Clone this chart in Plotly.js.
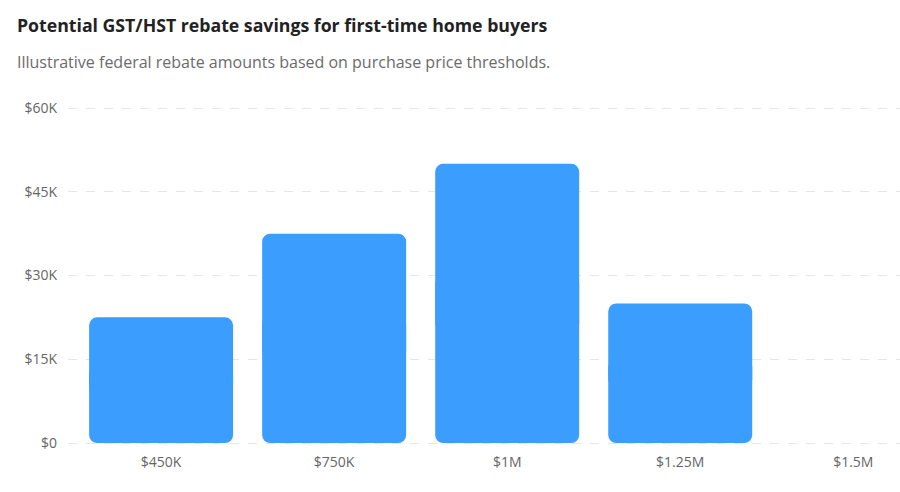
<!DOCTYPE html>
<html>
<head>
<meta charset="utf-8">
<script src="https://cdn.plot.ly/plotly-3.0.1.min.js"></script>
<style>html,body{margin:0;padding:0;background:#fff;}#chart{width:900px;height:492px;}</style>
</head>
<body>
<div id="chart"></div>
<script>
const categories = ["$450K", "$750K", "$1M", "$1.25M", "$1.5M"];
const rebates = [22500, 37500, 50000, 25000, 0];
const yTickVals = [0, 15000, 30000, 45000, 60000];
const yTickText = ["$0", "$15K", "$30K", "$45K", "$60K"];

const FONT = "'Open Sans', 'Noto Sans', sans-serif";
const BAR = "#3b9dfd";

// Each bar is drawn as two overlapping halves so both top and bottom corners are rounded.
const upper = {
  type: "bar",
  x: categories,
  base: rebates.map(v => v * 0.4),
  y: rebates.map(v => v * 0.6),
  marker: { color: BAR, line: { width: 0 } },
  hoverinfo: "none"
};
const lower = {
  type: "bar",
  x: categories,
  base: rebates.map(v => v * 0.6),
  y: rebates.map(v => -v * 0.6),
  marker: { color: BAR, line: { width: 0 } },
  hoverinfo: "none"
};

const layout = {
  width: 900,
  height: 492,
  margin: { l: 68, r: 0, t: 102, b: 43 },
  paper_bgcolor: "#ffffff",
  plot_bgcolor: "#ffffff",
  font: { family: FONT, color: "#666666", size: 14 },
  barmode: "overlay",
  bargap: 0.168,
  barcornerradius: 8,
  showlegend: false,
  title: {
    text: "<b>Potential GST/HST rebate savings for first-time home buyers</b>",
    font: { family: FONT, size: 17.7, color: "#222222" },
    xref: "container", yref: "container",
    x: 17 / 900, xanchor: "left",
    y: 1 - 26 / 492, yanchor: "middle"
  },
  annotations: [{
    text: "Illustrative federal rebate amounts based on purchase price thresholds.",
    xref: "paper", yref: "paper",
    x: (15 - 68) / 832, xanchor: "left",
    y: 1 + 40 / 347, yanchor: "middle",
    showarrow: false,
    font: { family: FONT, size: 16, color: "#6b6b6b" }
  }],
  xaxis: {
    type: "category",
    range: [-0.538, 4.27],
    showgrid: false,
    zeroline: false,
    showline: false,
    ticks: "",
    ticklabelstandoff: 3,
    tickfont: { family: FONT, size: 14, color: "#666666" },
    fixedrange: true
  },
  yaxis: {
    range: [-1075, 61075],
    tickvals: yTickVals,
    ticktext: yTickText,
    showgrid: true,
    gridcolor: "#e6e6e6",
    griddash: "dash",
    gridwidth: 1,
    zeroline: false,
    showline: false,
    ticks: "",
    ticklabelstandoff: 10,
    tickfont: { family: FONT, size: 14, color: "#666666" },
    fixedrange: true
  }
};

Plotly.newPlot("chart", [upper, lower], layout, { displayModeBar: false, staticPlot: true });
</script>
</body>
</html>
